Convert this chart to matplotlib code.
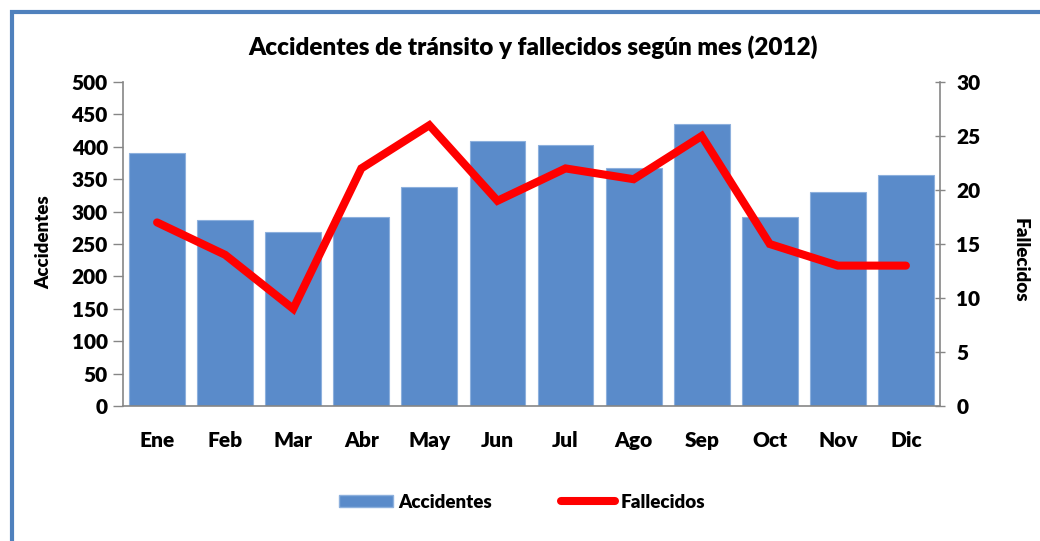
import matplotlib.pyplot as plt
from matplotlib.patches import Patch
from matplotlib.lines import Line2D

# data
meses = ['Ene', 'Feb', 'Mar', 'Abr', 'May', 'Jun', 'Jul', 'Ago', 'Sep', 'Oct', 'Nov', 'Dic']
accidentes = [390, 287, 268, 292, 338, 409, 403, 367, 435, 292, 330, 356]
fallecidos = [17, 14, 9, 22, 26, 19, 22, 21, 25, 15, 13, 13]

plt.rcParams['font.family'] = ['Lato', 'DejaVu Sans']
plt.rcParams['font.weight'] = 'heavy'
W = 'heavy'

bar_color = '#5A8BCA'
line_color = '#FF0000'
axis_gray = '#868686'

fig = plt.figure(figsize=(10.4, 5.41), dpi=100)
ax = fig.add_axes([0.1183, 0.2495, 0.7855, 0.5989])

# outer chart frame (only top and left edges show in the reference)
fig.add_artist(Line2D([0.0115, 0.0115, 1.0], [0.0, 0.977, 0.977], transform=fig.transFigure,
                      color='#4F81BD', linewidth=3, solid_joinstyle='miter'))

x = range(len(meses))
ax.bar(x, accidentes, width=0.82, color=bar_color, edgecolor='#8DB0DD', linewidth=0.8, zorder=2)
ax.set_xlim(-0.5, len(meses) - 0.5)
ax.set_ylim(0, 500)
ax.set_yticks(range(0, 501, 50))
ax.set_xticks(list(x))
ax.set_xticklabels(meses, fontweight=W)
ax.tick_params(axis='x', length=0, pad=18, labelsize=15)
ax.tick_params(axis='y', length=7, width=1, color=axis_gray, direction='out', labelsize=15, pad=4)
for t in ax.get_yticklabels():
    t.set_fontweight(W)
ax.set_ylabel('Accidentes', fontsize=13.5, fontweight=W)
ax.yaxis.set_label_coords(-0.087, 0.506)

ax2 = ax.twinx()
ax2.plot(x, fallecidos, color=line_color, linewidth=5.8, solid_joinstyle='miter',
         solid_capstyle='round', zorder=3)
ax2.set_ylim(0, 30)
ax2.set_yticks(range(0, 31, 5))
ax2.tick_params(axis='y', length=7.5, width=1, color=axis_gray, direction='inout', labelsize=15, pad=8)
for t in ax2.get_yticklabels():
    t.set_fontweight(W)
ax2.set_ylabel('Fallecidos', fontsize=13.5, fontweight=W, rotation=270, va='center')
ax2.yaxis.set_label_coords(1.098, 0.45)

for a in (ax, ax2):
    a.spines['top'].set_visible(False)
    for s in ('left', 'right', 'bottom'):
        a.spines[s].set_color(axis_gray)
        a.spines[s].set_linewidth(1.2)
ax2.spines['left'].set_visible(False)
ax2.spines['bottom'].set_visible(False)
ax.spines['right'].set_visible(False)

fig.text(0.513, 0.912, 'Accidentes de tránsito y fallecidos según mes (2012)',
         ha='center', va='center', fontsize=17.5, fontweight=W)

handles = [Patch(facecolor=bar_color, edgecolor='#8DB0DD'),
           Line2D([0], [0], color=line_color, linewidth=5.8, solid_capstyle='round')]
fig.legend(handles, ['Accidentes', 'Fallecidos'], loc='center', bbox_to_anchor=(0.502, 0.072),
           ncol=2, frameon=False, handlelength=2.85, handleheight=0.65, handletextpad=0.3,
           columnspacing=3.7, prop={'weight': W, 'size': 13.5})

fig.savefig('out.png', dpi=100)
